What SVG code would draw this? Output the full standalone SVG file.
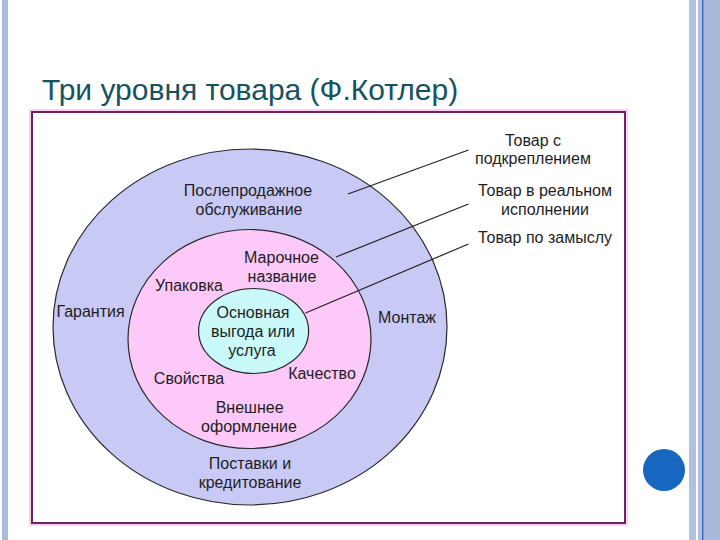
<svg xmlns="http://www.w3.org/2000/svg" width="720" height="540" viewBox="0 0 720 540">
<style>
  .lbl { font-family: "Liberation Sans", Arial, sans-serif; font-size: 16px; fill: #1e1e1e; text-anchor: middle; }
  .title { font-family: "Liberation Sans", Arial, sans-serif; font-size: 30px; fill: #17525f; }
  .ring { stroke: #2a2a2a; stroke-width: 1.2; }
  .conn { stroke: #222; stroke-width: 1.2; fill: none; }
</style>
<rect x="0" y="0" width="720" height="540" fill="#ffffff"/>
<!-- slide decorations -->
<g id="decor">
  <rect x="2" y="0" width="6" height="540" fill="#aab9dd"/>
  <rect x="689" y="0" width="31" height="540" fill="#b1c0df"/>
  <rect x="696" y="0" width="2" height="540" fill="#ffffff"/>
  <rect x="702" y="0" width="1.5" height="540" fill="#3d6cc6"/>
  <rect x="704" y="0" width="16" height="540" fill="#a9b9dc"/>
  <circle cx="664" cy="470" r="21" fill="#1766c0"/>
</g>
<g id="title">
  <text class="title" x="42" y="100">Три уровня товара (Ф.Котлер)</text>
</g>
<g id="frame">
  <rect x="31" y="111" width="595" height="413" fill="none" stroke="#f6d2ef" stroke-width="4"/>
  <rect x="32" y="112" width="593" height="411" fill="#ffffff" stroke="#6b2460" stroke-width="2"/>
</g>
<g id="outer">
  <ellipse class="ring" cx="250" cy="327" rx="197" ry="178" fill="#c9c9f6"/>
</g>
<g id="middle">
  <ellipse class="ring" cx="249.5" cy="339" rx="121.5" ry="109.5" fill="#fcc9f9"/>
</g>
<g id="inner">
  <ellipse class="ring" cx="253.6" cy="331" rx="55" ry="42.5" fill="#c9f9f9"/>
</g>
<g id="connectors">
  <line class="conn" x1="348" y1="194" x2="468.5" y2="150"/>
  <line class="conn" x1="336" y1="257" x2="468.5" y2="204"/>
  <line class="conn" x1="305.5" y1="313" x2="468.5" y2="244"/>
</g>
<g id="outer-labels">
  <text class="lbl" x="248" y="196">Послепродажное</text>
  <text class="lbl" x="249" y="215">обслуживание</text>
  <text class="lbl" x="90.5" y="317">Гарантия</text>
  <text class="lbl" x="407" y="323">Монтаж</text>
  <text class="lbl" x="250" y="469">Поставки и</text>
  <text class="lbl" x="250" y="487.5">кредитование</text>
</g>
<g id="middle-labels">
  <text class="lbl" x="281.5" y="263">Марочное</text>
  <text class="lbl" x="282" y="281.5">название</text>
  <text class="lbl" x="189" y="291">Упаковка</text>
  <text class="lbl" x="189" y="384">Свойства</text>
  <text class="lbl" x="322" y="379">Качество</text>
  <text class="lbl" x="249.6" y="412.5">Внешнее</text>
  <text class="lbl" x="249" y="432">оформление</text>
</g>
<g id="inner-labels">
  <text class="lbl" x="253" y="317.5">Основная</text>
  <text class="lbl" x="253" y="336.5">выгода или</text>
  <text class="lbl" x="252" y="356">услуга</text>
</g>
<g id="right-labels">
  <text class="lbl" x="533" y="146">Товар с</text>
  <text class="lbl" x="533" y="164">подкреплением</text>
  <text class="lbl" x="545" y="196">Товар в реальном</text>
  <text class="lbl" x="545" y="215">исполнении</text>
  <text class="lbl" x="545" y="243">Товар по замыслу</text>
</g>
</svg>
